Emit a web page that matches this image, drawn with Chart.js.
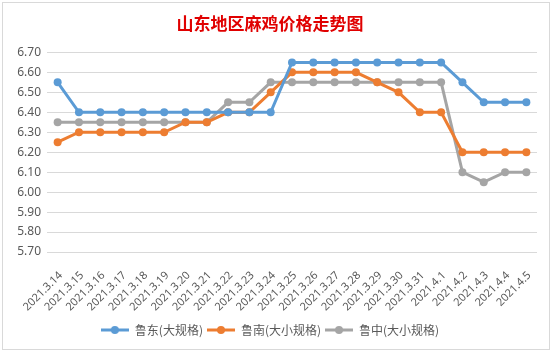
<!DOCTYPE html>
<html lang="zh">
<head>
<meta charset="UTF-8" />
<title>山东地区麻鸡价格走势图</title>
<style>
  body {
    margin: 0;
    background: #fff;
    width: 555px;
    height: 352px;
    overflow: hidden;
  }
  #box {
    position: absolute;
    left: 2px;
    top: 2px;
    width: 546px;
    height: 346px;
    border: 1px solid #d9d9d9;
    background: #fff;
  }
</style>
</head>
<body>
  <div id="box">
    <canvas id="priceChart" width="546" height="346"></canvas>
  </div>

  <script src="https://cdn.jsdelivr.net/npm/chart.js"></script>
  <script>
    // dates and prices (yuan / jin)
    const dates = ['2021.3.14', '2021.3.15', '2021.3.16', '2021.3.17', '2021.3.18', '2021.3.19',
      '2021.3.20', '2021.3.21', '2021.3.22', '2021.3.23', '2021.3.24', '2021.3.25', '2021.3.26',
      '2021.3.27', '2021.3.28', '2021.3.29', '2021.3.30', '2021.3.31', '2021.4.1', '2021.4.2',
      '2021.4.3', '2021.4.4', '2021.4.5'];
    const ludong = [6.55, 6.40, 6.40, 6.40, 6.40, 6.40, 6.40, 6.40, 6.40, 6.40, 6.40,
      6.65, 6.65, 6.65, 6.65, 6.65, 6.65, 6.65, 6.65, 6.55, 6.45, 6.45, 6.45];
    const lunan = [6.25, 6.30, 6.30, 6.30, 6.30, 6.30, 6.35, 6.35, 6.40, 6.40, 6.50,
      6.60, 6.60, 6.60, 6.60, 6.55, 6.50, 6.40, 6.40, 6.20, 6.20, 6.20, 6.20];
    const luzhong = [6.35, 6.35, 6.35, 6.35, 6.35, 6.35, 6.35, 6.35, 6.45, 6.45, 6.55,
      6.55, 6.55, 6.55, 6.55, 6.55, 6.55, 6.55, 6.55, 6.10, 6.05, 6.10, 6.10];
    const seriesNames = ['鲁东(大规格)', '鲁南(大小规格)', '鲁中(大小规格)'];
    const yMin = 5.7, yMax = 6.7, yStep = 0.1;

    const colors = ['#5b9bd5', '#ed7d31', '#a5a5a5'];
    const textColor = '#595959';

    // little line-with-dot sample for the legend
    function legendMark(color) {
      const c = document.createElement('canvas');
      c.width = 28;
      c.height = 10;
      const g = c.getContext('2d');
      g.strokeStyle = color;
      g.lineWidth = 3;
      g.beginPath();
      g.moveTo(0, 5);
      g.lineTo(28, 5);
      g.stroke();
      g.fillStyle = color;
      g.beginPath();
      g.arc(14, 5, 4, 0, Math.PI * 2);
      g.fill();
      return c;
    }
    const marks = colors.map(legendMark);

    function makeSet(name, data, color) {
      return {
        label: name,
        data: data,
        borderColor: color,
        backgroundColor: color,
        borderWidth: 3,
        pointRadius: 4,
        pointHoverRadius: 4,
        pointBorderWidth: 0,
        tension: 0
      };
    }

    const ctx = document.getElementById('priceChart').getContext('2d');
    new Chart(ctx, {
      type: 'line',
      data: {
        labels: dates,
        datasets: [
          makeSet(seriesNames[0], ludong, colors[0]),
          makeSet(seriesNames[1], lunan, colors[1]),
          makeSet(seriesNames[2], luzhong, colors[2])
        ]
      },
      options: {
        responsive: false,
        animation: false,
        layout: { padding: { left: 0, right: 12, top: 0, bottom: 3 } },
        plugins: {
          title: {
            display: true,
            text: '山东地区麻鸡价格走势图',
            color: '#e00000',
            font: { family: '"Noto Sans CJK SC"', size: 17, weight: 'bold' },
            padding: { top: 10, bottom: 19 }
          },
          legend: {
            position: 'bottom',
            labels: {
              color: textColor,
              font: { family: '"Noto Sans CJK SC"', size: 12 },
              usePointStyle: true,
              pointStyleWidth: 28,
              padding: 4,
              generateLabels: chart => {
                const items = Chart.defaults.plugins.legend.labels.generateLabels(chart);
                items.forEach((it, i) => { it.pointStyle = marks[i]; });
                return items;
              }
            }
          },
          tooltip: { enabled: false }
        },
        scales: {
          x: {
            offset: true,
            grid: { display: false },
            border: { display: false },
            ticks: {
              color: textColor,
              font: { family: '"Noto Sans"', size: 11 },
              minRotation: 45,
              maxRotation: 45,
              autoSkip: false,
              padding: 9,
              labelOffset: 3
            },
            afterFit: scale => { scale.height = 68; }
          },
          y: {
            min: yMin,
            max: yMax,
            grid: { color: '#d9d9d9', drawTicks: false },
            border: { display: false },
            ticks: {
              stepSize: yStep,
              color: textColor,
              font: { family: '"Noto Sans"', size: 12 },
              padding: 6,
              callback: v => v.toFixed(2)
            },
            afterFit: scale => { scale.width = 44; }
          }
        }
      }
    });
  </script>
</body>
</html>
